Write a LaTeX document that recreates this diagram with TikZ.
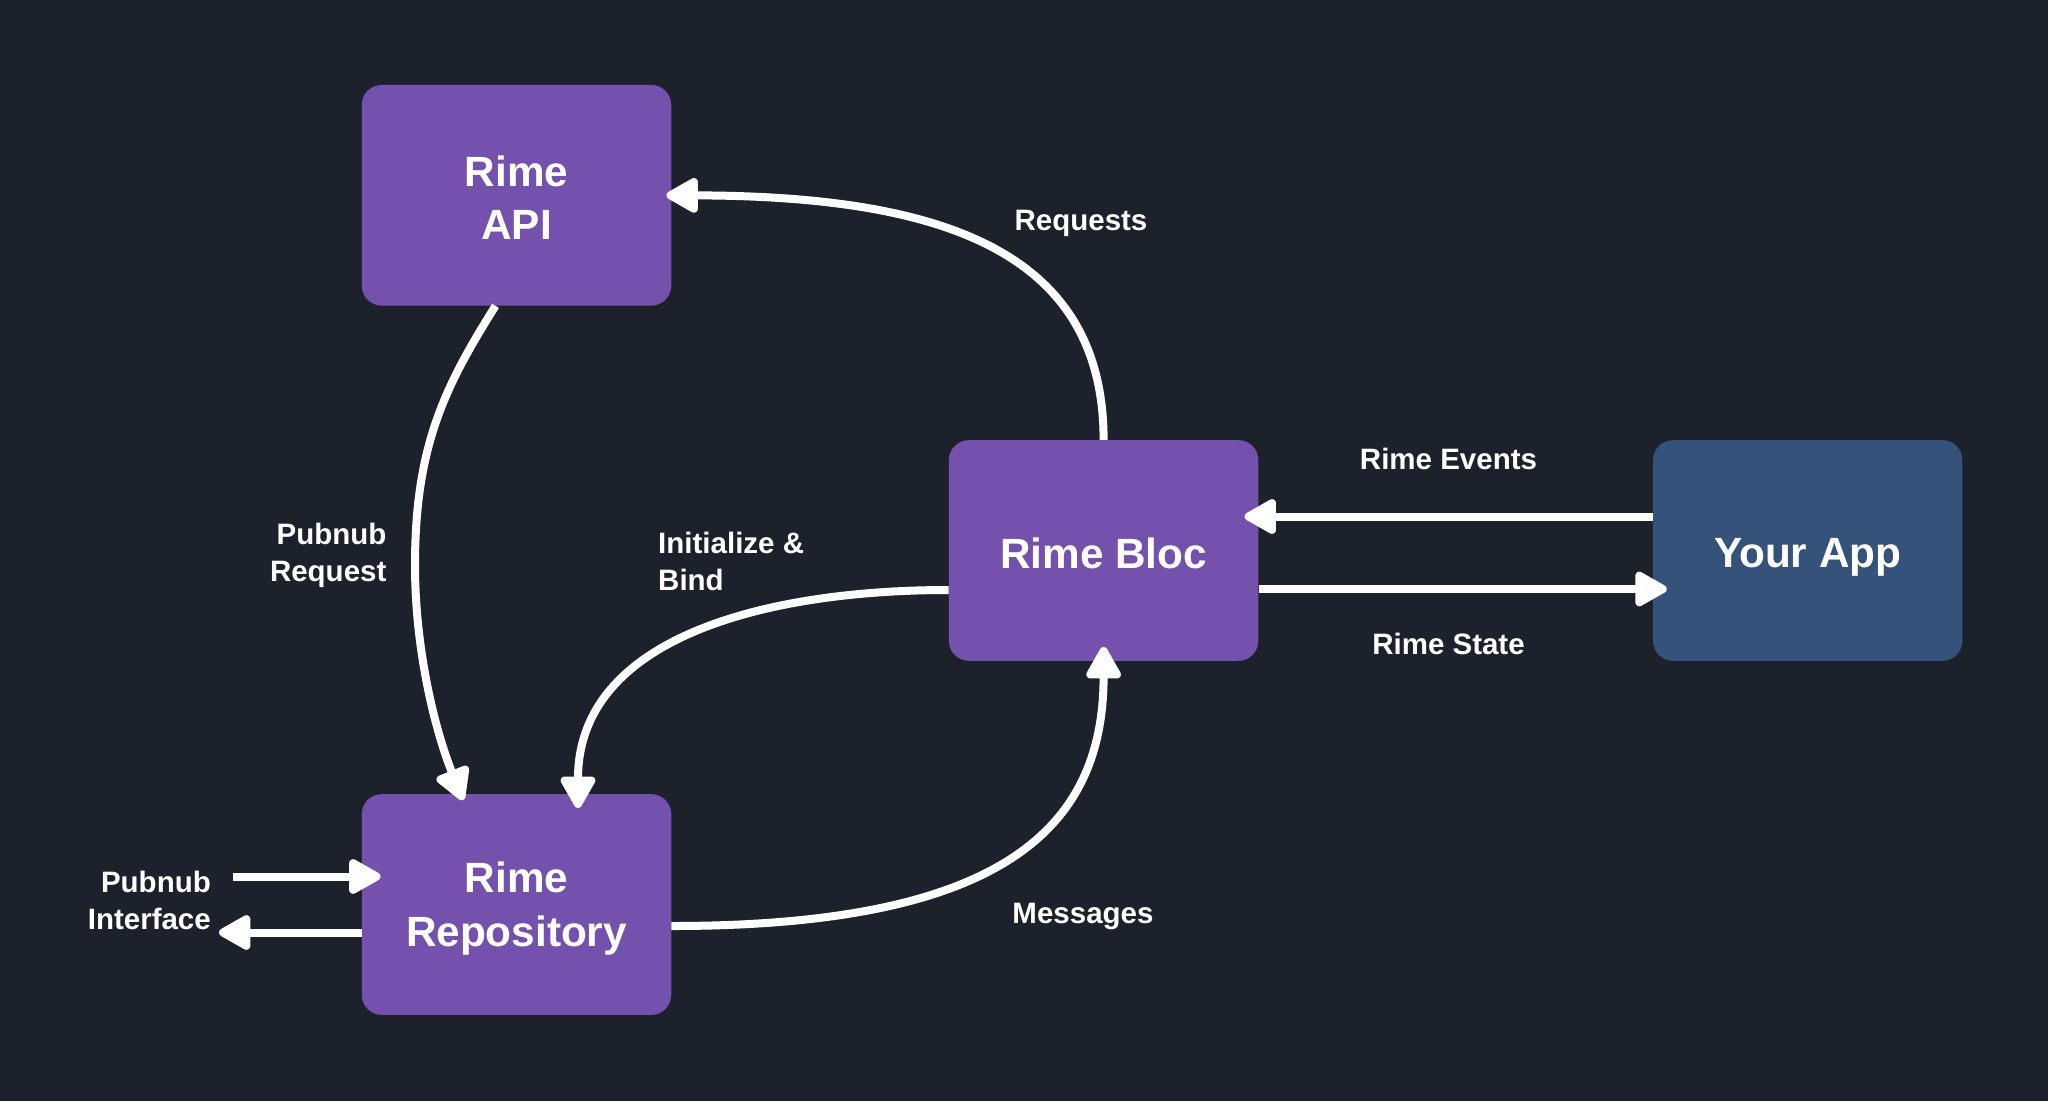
\documentclass[tikz,border=0pt]{standalone}
\usepackage{fontspec}
\setmainfont{Liberation Sans}
\usetikzlibrary{arrows.meta,calc}
\definecolor{bgc}{HTML}{1C212B}
\definecolor{purp}{HTML}{7451AD}
\definecolor{appblue}{HTML}{34527A}
\tikzset{
  box/.style={draw=none, rounded corners=20pt, minimum width=309.5pt, minimum height=220.7pt},
  purplebox/.style={box, fill=purp},
  bluebox/.style={box, fill=appblue},
  boxtext/.style={text=white, align=center, inner sep=0pt, font=\bfseries\fontsize{42.3}{53.5}\selectfont},
  lbl/.style={text=white, inner sep=0pt, font=\bfseries\fontsize{29.5}{37}\selectfont},
  conn/.style={draw=white, line width=8pt, -{Triangle[length=36pt,width=38pt,round]}},
}
\begin{document}
\begin{tikzpicture}[x=1pt,y=-1pt]
\path[fill=bgc] (0,0) rectangle (2048,1101);
\node[purplebox] (api) at (516.5,195.3) {};
\node[purplebox] (repo) at (516.5,904.5) {};
\node[purplebox] (bloc) at (1103.6,550.5) {};
\node[bluebox] (app) at (1807.7,550.5) {};
\node[boxtext] (tapi) at ([yshift=-2.6pt]api.center) {Rime\\API};
\node[boxtext] (trepo) at ([yshift=-3.9pt]repo.center) {Rime\\Repository};
\node[boxtext] (tbloc) at ([yshift=-2.6pt]bloc.center) {Rime Bloc};
\node[boxtext] (tapp) at ([yshift=-6.5pt]app.center) {Your App};

% Requests
\draw[conn] (bloc.north) .. controls (1103.6,250) and (940,196) .. ([xshift=-5pt]api.east);
% Pubnub Request
\coordinate (prmid) at (415,565);
\draw[conn] ([xshift=-21pt]api.south) .. controls (445.5,385.6) and (415,445) .. (prmid)
  .. controls (415,650) and (435,730) .. ([xshift=-53.5pt,yshift=-6pt]repo.north);
% Initialize & Bind
\draw[conn] ([yshift=-39.5pt]bloc.west) .. controls (760,590) and (578,640) .. ([xshift=61.5pt,yshift=-14pt]repo.north);
% Messages
\draw[conn] ([yshift=-21.5pt]repo.east) .. controls (1000,926) and (1103.6,830) .. ([yshift=14pt]bloc.south);
% Rime Events
\draw[conn] ([yshift=34pt]app.west) -- ([xshift=-14pt,yshift=34pt]bloc.east);
% Rime State
\draw[conn] ([yshift=-38.5pt]bloc.east) -- ([xshift=14pt,yshift=-38.5pt]app.west);
% Pubnub interface
\coordinate (pin) at (232.5,876.5);
\coordinate (pout) at (219,932.5);
\draw[conn] (pin) -- ([xshift=19pt]repo.west |- pin);
\draw[conn] (repo.west |- pout) -- (pout);

\node[lbl] (lreq) at (1081,223.4) {Requests};
\node[lbl] (lmsg) at (1083,916) {Messages};
\node[lbl] (levt) at (1448.5,459.4) {Rime Events};
\node[lbl] (lst) at (1448.5,644) {Rime State};
\node[lbl, anchor=east, align=right] (lpr) at (386.6,555) {Pubnub\\Request};
\node[lbl, anchor=west, align=left] (lib) at (658,561.5) {Initialize \&\\Bind};
\node[lbl, anchor=east, align=right] (lpi) at (211,900) {Pubnub\\Interface};
\end{tikzpicture}
\end{document}
